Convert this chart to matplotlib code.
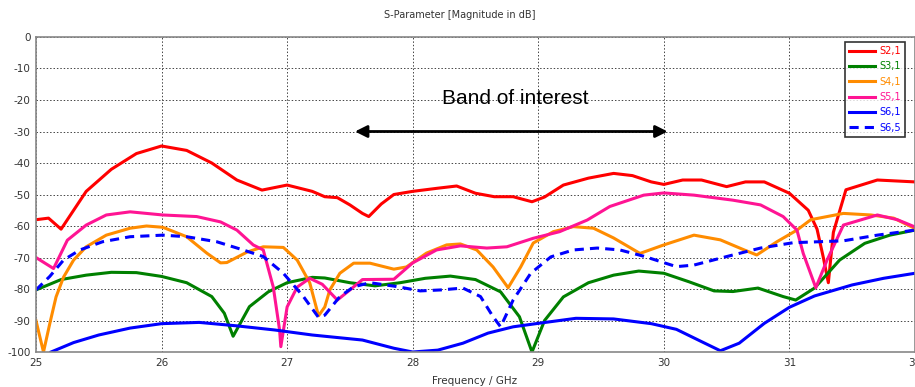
import numpy as np
import matplotlib
matplotlib.use('Agg')
import matplotlib.pyplot as plt

plt.rcParams['axes.unicode_minus'] = False

# S2,1 (red)
f_s21 = [25.0, 25.1, 25.2, 25.4, 25.6, 25.8, 26.0, 26.2, 26.4, 26.6, 26.8, 27.0, 27.2, 27.3, 27.4, 27.5,
         27.6, 27.65, 27.75, 27.85, 28.0, 28.2, 28.35, 28.5, 28.65, 28.8, 28.95, 29.05, 29.2, 29.4, 29.6,
         29.75, 29.9, 30.0, 30.15, 30.3, 30.5, 30.65, 30.8, 31.0, 31.15, 31.22, 31.27, 31.31, 31.35, 31.45,
         31.7, 32.0]
s21 = [-58, -57.5, -61, -49, -42, -37, -34.6, -36, -40, -45.4, -48.6, -47, -49, -50.7, -51, -53.3,
       -56, -57, -53, -50, -49, -48, -47.3, -49.6, -50.7, -50.7, -52.3, -50.8, -47, -44.8, -43.3,
       -44, -46, -46.8, -45.4, -45.4, -47.5, -46, -46, -49.6, -55, -61, -70, -78, -62, -48.5,
       -45.4, -46]

# S3,1 (green)
f_s31 = [25.0, 25.2, 25.4, 25.6, 25.8, 26.0, 26.2, 26.4, 26.5, 26.57, 26.7, 26.85, 27.0, 27.2, 27.3,
         27.5, 27.7, 27.9, 28.1, 28.3, 28.5, 28.7, 28.85, 28.95, 29.05, 29.2, 29.4, 29.6, 29.8, 30.0,
         30.2, 30.4, 30.55, 30.75, 30.95, 31.05, 31.2, 31.4, 31.6, 31.8, 32.0]
s31 = [-80.3, -77, -75.6, -74.7, -74.8, -76, -78, -82.4, -87.7, -95, -85.6, -80.9, -78, -76.3, -76.5,
       -78, -79, -78, -76.6, -75.9, -77, -80.9, -88.8, -100, -90, -82.5, -78, -75.6, -74.3, -75,
       -77.7, -80.6, -80.8, -79.7, -82.4, -83.5, -79.7, -70.8, -65.5, -62.9, -61.3]

# S4,1 (orange)
f_s41 = [25.0, 25.06, 25.11, 25.16, 25.22, 25.3, 25.4, 25.56, 25.75, 25.88, 26.01, 26.2, 26.36, 26.47,
         26.52, 26.68, 26.81, 26.97, 27.08, 27.18, 27.25, 27.3, 27.34, 27.42, 27.53, 27.66, 27.85, 27.95,
         28.11, 28.27, 28.38, 28.51, 28.64, 28.76, 28.86, 28.96, 29.12, 29.28, 29.44, 29.6, 29.81, 30.0,
         30.24, 30.45, 30.64, 30.74, 30.9, 31.06, 31.17, 31.43, 31.65, 31.83, 32.0]
s41 = [-90, -100, -91, -82.5, -76.2, -70.8, -66.6, -62.9, -60.7, -60, -60.4, -63.4, -68.6, -71.7,
       -71.6, -68.3, -66.6, -66.8, -70.8, -78, -88.5, -85.7, -80.3, -75, -71.8, -71.8, -73.7, -73,
       -68.6, -66, -65.7, -67.6, -73, -79.6, -73, -65.4, -61.8, -60.2, -60.7, -63.8, -68.7, -66,
       -62.9, -64.4, -67.6, -69.2, -65, -61.3, -58, -56, -56.5, -57.5, -60.8]

# S5,1 (pink)
f_s51 = [25.0, 25.14, 25.25, 25.4, 25.56, 25.75, 26.01, 26.28, 26.47, 26.6, 26.73, 26.81, 26.89, 26.94,
         26.95, 27.0, 27.08, 27.18, 27.28, 27.4, 27.5, 27.6, 27.85, 28.0, 28.19, 28.38, 28.59, 28.75,
         28.96, 29.17, 29.39, 29.57, 29.84, 30.0, 30.24, 30.55, 30.77, 30.95, 31.06, 31.11, 31.21, 31.3,
         31.43, 31.7, 31.86, 32.0]
s51 = [-70, -73.5, -64.5, -59.7, -56.5, -55.5, -56.5, -57, -58.7, -61.3, -66, -67.6, -79.4, -93,
       -98.3, -85.7, -79.4, -76.6, -78.5, -83.5, -80.3, -77, -76.9, -71.7, -67.6, -66.3, -67, -66.6,
       -63.9, -61.8, -58.1, -53.8, -50.2, -49.5, -50.2, -51.8, -53.3, -57, -61.3, -68.7, -79.6, -70.8,
       -59.7, -56.5, -58, -60.3]

# S6,1 (blue solid)
f_s61 = [25.12, 25.3, 25.5, 25.75, 26.0, 26.3, 26.6, 26.9, 27.2, 27.3, 27.6, 27.85, 28.0, 28.2, 28.4,
         28.6, 28.8, 29.0, 29.3, 29.6, 29.9, 30.1, 30.3, 30.45, 30.6, 30.8, 31.0, 31.2, 31.5, 31.75, 32.0]
s61 = [-100, -97, -94.6, -92.4, -91, -90.6, -91.7, -93, -94.6, -95, -96.2, -98.8, -100, -99.4, -97.2,
       -94, -92, -90.9, -89.3, -89.5, -91, -92.8, -96.7, -99.6, -97.2, -90.9, -85.8, -82.2, -78.7, -76.6, -75]

# S6,5 (blue dashed)
f_s65 = [25.0, 25.11, 25.22, 25.35, 25.53, 25.75, 26.01, 26.2, 26.44, 26.65, 26.81, 26.97, 27.13, 27.25,
         27.3, 27.42, 27.53, 27.66, 27.87, 28.06, 28.22, 28.4, 28.54, 28.64, 28.7, 28.8, 28.94, 29.1,
         29.28, 29.47, 29.65, 29.84, 30.1, 30.24, 30.5, 30.77, 31.03, 31.43, 31.7, 32.0]
s65 = [-80.3, -76, -70.8, -67.6, -65, -63.4, -62.9, -63.4, -65, -67.6, -69.7, -75, -82.4, -89,
       -88.3, -82.4, -79.3, -78, -79.2, -80.6, -80.3, -79.7, -82.4, -88.8, -92, -83.5, -75, -69.8,
       -67.6, -67, -67.6, -69.6, -72.9, -72.4, -69.7, -67, -65.3, -64.7, -62.9, -61.3]

yticks = [0, -10, -20, -30, -40, -50, -60, -70, -80, -90, -100]
xticks = [25, 26, 27, 28, 29, 30, 31, 32]

fig = plt.figure(figsize=(9.15, 3.87), dpi=100)
ax = fig.add_axes([0.0393, 0.0904, 0.9607, 0.814])

ax.plot(f_s21, s21, color='#ff0000', lw=2.2, label='S2,1')
ax.plot(f_s31, s31, color='#008000', lw=2.2, label='S3,1')
ax.plot(f_s41, s41, color='#ff8c00', lw=2.2, label='S4,1')
ax.plot(f_s51, s51, color='#ff1493', lw=2.2, label='S5,1')
ax.plot(f_s61, s61, color='#0000ff', lw=2.2, label='S6,1')
ax.plot(f_s65, s65, color='#0000ff', lw=2.2, ls=(0, (3, 2)), label='S6,5')

ax.set_xlim(25, 32)
ax.set_ylim(-100, 0)
ax.set_xticks(xticks)
ax.set_yticks(yticks)
ax.set_xticklabels([str(t) for t in xticks])
ax.set_yticklabels([str(t) for t in yticks])
ax.tick_params(labelsize=7.5, colors='#333333', length=0, pad=4)
ax.grid(True, ls=(0, (1.5, 2)), color='#444444', lw=0.7)
for s in ax.spines.values():
    s.set_color('#888888')
    s.set_linewidth(1.2)

fig.text(0.503, 0.962, 'S-Parameter [Magnitude in dB]', ha='center', va='center', fontsize=7, color='#333333')
fig.text(0.519, 0.015, 'Frequency / GHz', ha='center', va='center', fontsize=7.5, color='#333333')

ax.annotate('', xy=(27.54, -30), xytext=(30.03, -30),
            arrowprops=dict(arrowstyle='<|-|>', color='black', lw=2, mutation_scale=18, shrinkA=0, shrinkB=0))
ax.text(28.82, -19.6, 'Band of interest', ha='center', va='center', fontsize=15,
        family='Liberation Sans', color='black')

leg = ax.legend(loc='upper right', bbox_to_anchor=(0.989, 0.985), fontsize=7, frameon=True,
                fancybox=False, handlelength=2.7, handletextpad=0.4, borderpad=0.45,
                labelspacing=0.55, borderaxespad=0)
leg.get_frame().set_edgecolor('black')
leg.get_frame().set_linewidth(1.2)
for line, text in zip(leg.get_lines(), leg.get_texts()):
    text.set_color(line.get_color())

fig.savefig('out.png', dpi=100)
